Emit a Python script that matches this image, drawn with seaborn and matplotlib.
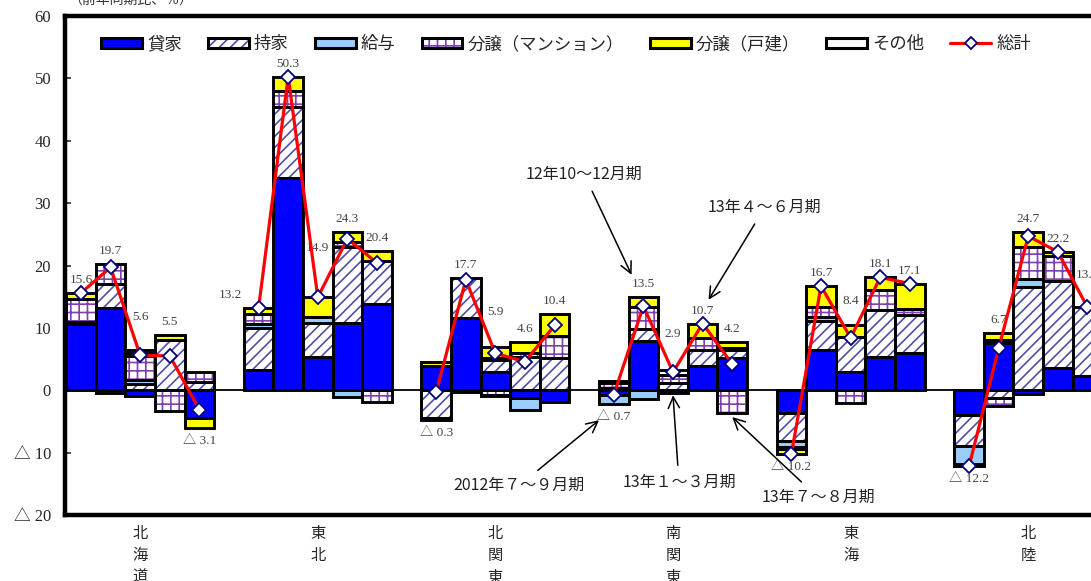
import numpy as np
import pandas as pd
import matplotlib
matplotlib.use("Agg")
import matplotlib.pyplot as plt
from matplotlib.patches import Patch
from matplotlib.lines import Line2D
import seaborn as sns

# ---- data (contribution to y/y change, %) ----
regions = ["北\n海\n道", "東\n北", "北\n関\n東", "南\n関\n東", "東\n海", "北\n陸"]
periods = ["2012年7~9月", "12年10~12月", "13年1~3月", "13年4~6月", "13年7~8月"]

rent = [10.7, 13.2, -0.9, 0.0, -4.5,
        3.2, 34.0, 5.4, 10.8, 13.8,
        3.9, 11.6, 3.0, -1.3, -1.9,
        -0.8, 7.9, -0.4, 3.9, 5.2,
        -3.6, 6.5, 2.9, 5.4, 6.0,
        -3.9, 7.6, -0.6, 3.6, 2.3]
owned = [0.3, 3.8, 1.0, 8.1, 1.3,
         6.8, 11.4, 5.4, 12.2, 7.0,
         -4.5, 6.4, 1.8, 5.4, 5.2,
         0.4, 1.9, 1.1, 2.5, 1.3,
         -4.6, 4.6, 5.6, 7.5, 6.1,
         -5.1, -1.2, 16.5, 13.9, 11.0]
issued = [0.0, -0.5, 0.6, 0.0, 0.0,
          0.6, 0.0, 0.9, -1.1, 0.0,
          0.0, -0.3, 0.4, -1.9, 0.0,
          -1.4, -1.4, 0.0, 0.0, 0.3,
          -0.9, 0.7, 0.0, 0.0, 0.0,
          -2.9, 0.4, 1.3, 0.0, 0.0]
condo = [3.6, 3.2, 3.9, -3.4, 1.7,
         1.6, 2.5, 0.0, 0.8, -1.9,
         0.0, 0.0, -0.7, 0.6, 3.5,
         0.8, 3.5, 1.3, 2.0, -3.6,
         -0.3, 1.5, -2.0, 3.2, 1.0,
         0.0, -1.3, 5.2, 4.0, 0.0]
detached = [1.0, 0.0, 0.5, 0.8, -1.6,
            1.0, 2.4, 3.2, 1.6, 1.5,
            0.6, 0.0, 1.7, 1.8, 3.6,
            0.3, 1.6, 0.0, 2.3, 1.0,
            -0.8, 3.4, 1.9, 2.0, 4.0,
            0.0, 1.2, 2.3, 0.7, 0.0]
other = [0.0, 0.0, 0.5, 0.0, 0.0,
         0.0, 0.0, 0.0, 0.0, 0.0,
         -0.3, 0.0, -0.3, 0.0, 0.0,
         0.0, 0.0, 0.9, 0.0, 0.0,
         0.0, 0.0, 0.0, 0.0, 0.0,
         -0.3, 0.0, 0.0, 0.0, 0.0]
total = [15.6, 19.7, 5.6, 5.5, -3.1,
         13.2, 50.3, 14.9, 24.3, 20.4,
         -0.3, 17.7, 5.9, 4.6, 10.4,
         -0.7, 13.5, 2.9, 10.7, 4.2,
         -10.2, 16.7, 8.4, 18.1, 17.1,
         -12.2, 6.7, 24.7, 22.2, 13.3]

series_names = ["貸家", "持家", "給与", "分譲（マンション）", "分譲（戸建）", "その他"]
series_vals = [rent, owned, issued, condo, detached, other]

# styles: (face, hatch, hatch colour)
styles = [("#0000FF", None, "#0000FF"),
          ("white", "///", "#4F4FA8"),
          ("#99CCFF", None, "#99CCFF"),
          ("white", "++", "#7F3FB0"),
          ("#FFFF00", None, "#FFFF00"),
          ("white", None, "white")]

# bar slot positions: 5 bars per region, one empty slot between regions
pos = np.array([r * 6 + p for r in range(len(regions)) for p in range(len(periods))])

sns.set_theme(style="white")
plt.rcParams["font.family"] = ["Liberation Serif", "Noto Sans CJK JP", "DejaVu Sans"]
plt.rcParams["hatch.linewidth"] = 1.2
jp = ["Noto Sans CJK JP", "DejaVu Sans"]

fig = plt.figure(figsize=(10.91, 5.81), dpi=100)
ax = fig.add_axes([65 / 1091, 66 / 581, 1 - 65 / 1091, 499 / 581])

pos_cum = np.zeros(len(pos))
neg_cum = np.zeros(len(pos))
for vals, (face, hatch, hcol) in zip(series_vals, styles):
    v = np.array(vals)
    bottom = np.where(v >= 0, pos_cum, neg_cum)
    m = v != 0
    ax.bar(pos[m], v[m], bottom=bottom[m], width=1.0, color=face,
           edgecolor=hcol, linewidth=0, hatch=hatch, zorder=2)
    ax.bar(pos[m], v[m], bottom=bottom[m], width=1.0, fill=False,
           edgecolor="black", linewidth=2.1, zorder=2.5)
    pos_cum += np.where(v > 0, v, 0)
    neg_cum += np.where(v < 0, v, 0)

ax.axhline(0, color="black", lw=1.3, zorder=1.5)

df = pd.DataFrame({"pos": pos, "total": total,
                   "region": np.repeat(np.arange(len(regions)), len(periods))})
sns.lineplot(data=df, x="pos", y="total", units="region", estimator=None,
             color="red", lw=2.3, marker="D", markersize=7,
             markerfacecolor="white", markeredgecolor="#000080",
             markeredgewidth=1.3, zorder=4, ax=ax)

# data labels
lift = {2: 14, 7: 26, 12: 16, 17: 16, 22: 8, 29: 14}
shift = {5: -20}
for i, (x, t) in enumerate(zip(pos, total)):
    if t >= 0:
        txt = f"{t:.1f}"
        y, dy, va = pos_cum[i], 5 + lift.get(i, 0), "bottom"
    else:
        txt = f"△ {abs(t):.1f}"
        y, dy, va = neg_cum[i], -5, "top"
    ax.annotate(txt, (x, y), xytext=(shift.get(i, 0), dy), textcoords="offset points",
                ha="center", va=va, fontsize=9.5, color="#444444", zorder=1)

# period call-outs
callouts = [("12年10～12月期", (18.6, 18.5), (17.0, 34.6)),
            ("13年４～６月期", (21.2, 14.5), (23.1, 29.3)),
            ("2012年７～９月期", (17.5, -4.8), (14.8, -15.3)),
            ("13年１～３月期", (20.0, -0.8), (20.2, -14.8)),
            ("13年７～８月期", (22.0, -4.3), (24.9, -17.2))]
for txt, head, tpos in callouts:
    ax.annotate(txt, head, xytext=tpos, ha="center", va="center", fontsize=11.5,
                family=jp, color="#222222", zorder=5,
                arrowprops=dict(arrowstyle="->,head_length=0.7,head_width=0.35",
                                lw=1.1, color="black", shrinkA=4, shrinkB=0))

# region labels
for r, name in enumerate(regions):
    ax.text(r * 6 + 2, -0.02, name, transform=ax.get_xaxis_transform(),
            ha="center", va="top", fontsize=11, family=jp, linespacing=1.38)

ax.set_xlim(-0.54, 34.12)
ax.set_ylim(-20, 60)
yt = list(range(-20, 61, 10))
ax.set_yticks(yt)
ax.set_yticklabels([f"△ {abs(v)}" if v < 0 else str(v) for v in yt], fontsize=12)
ax.set_xticks([])
ax.tick_params(axis="y", direction="in", length=4, width=1.2, pad=10, left=True)
ax.set_xlabel("")
ax.set_ylabel("")
for s in ["left", "top", "bottom"]:
    ax.spines[s].set_linewidth(3.2)
    ax.spines[s].set_color("black")
ax.spines["right"].set_visible(False)

# legend
handles = []
for face, hatch, hcol in styles:
    handles.append((Patch(facecolor=face, edgecolor=hcol, hatch=hatch, linewidth=0),
                    Patch(fill=False, edgecolor="black", linewidth=2.2)))
handles.append(Line2D([], [], color="red", lw=2.3, marker="D", markersize=6,
                      markerfacecolor="white", markeredgecolor="#000080", markeredgewidth=1.3))
ax.legend(handles, series_names + ["総計"], loc="center left", bbox_to_anchor=(0.02, 0.944),
          ncol=7, frameon=False, handlelength=2.35, handleheight=0.5, handletextpad=0.3,
          columnspacing=1.5, prop={"family": jp, "size": 12.5})

fig.text(68 / 1091, 1.0, "（前年同期比、％）", ha="left", va="center", fontsize=10,
         family=jp, color="#333333")

fig.savefig("out.png", dpi=100)
